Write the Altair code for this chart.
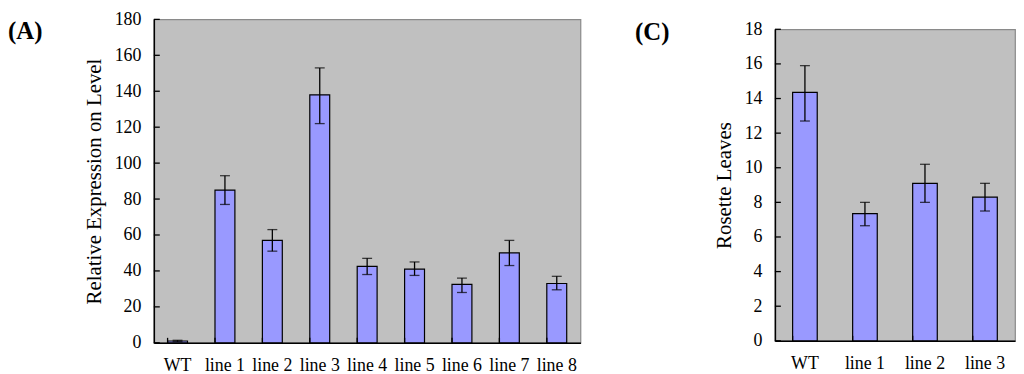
import altair as alt
import pandas as pd

FONT = "Liberation Serif"

# Panel A data
cats_a = ["WT", "line 1", "line 2", "line 3", "line 4", "line 5", "line 6", "line 7", "line 8"]
vals_a = [1.0, 85, 57, 138, 42.5, 41, 32.5, 50, 33]
lo_a = [0.6, 77, 51, 122, 38, 37.5, 28, 43, 29.5]
hi_a = [1.4, 93, 63, 153, 47, 45, 36, 57, 37]
ticks_a = [0, 20, 40, 60, 80, 100, 120, 140, 160, 180]

# Panel C data
cats_c = ["WT", "line 1", "line 2", "line 3"]
vals_c = [14.35, 7.35, 9.1, 8.3]
lo_c = [12.7, 6.65, 8.0, 7.5]
hi_c = [15.9, 8.0, 10.2, 9.1]
ticks_c = [0, 2, 4, 6, 8, 10, 12, 14, 16, 18]


def panel(cats, vals, lo, hi, ticks, ytitle, label, width, height, pad, label_xy):
    df = pd.DataFrame({"cat": cats, "val": vals, "lo": lo, "hi": hi})
    tdf = pd.DataFrame({"t": ticks})
    ymax = ticks[-1]
    xscale = alt.Scale(domain=cats, paddingInner=pad, paddingOuter=pad / 2)
    yscale = alt.Scale(domain=[0, ymax], nice=False)
    xaxis = alt.Axis(title=None, labelAngle=0, ticks=False, domainColor="black",
                     domainWidth=1.5, labelFont=FONT, labelFontSize=18,
                     labelColor="black", labelPadding=14, labelOverlap=False)
    yaxis = alt.Axis(title=ytitle, values=ticks, ticks=False, grid=False,
                     domainColor="black", domainWidth=1.5, labelFont=FONT,
                     labelFontSize=18, labelColor="black", labelPadding=13,
                     labelOverlap=False, labelFlush=False,
                     titleFont=FONT, titleFontSize=21, titleFontWeight="normal",
                     titleColor="black", titlePadding=10)
    x = alt.X("cat:N", sort=cats, scale=xscale, axis=xaxis)
    base = alt.Chart(df)
    bars = base.mark_bar(fill="#9999ff", stroke="black", strokeWidth=1.2).encode(
        x=x, y=alt.Y("val:Q", scale=yscale, axis=yaxis))
    err = base.mark_rule(color="black", strokeWidth=1.3).encode(
        x=x, y=alt.Y("lo:Q", scale=yscale, axis=yaxis), y2="hi:Q")
    cap_lo = base.mark_tick(color="black", size=10, thickness=1.3).encode(
        x=x, y=alt.Y("lo:Q", scale=yscale, axis=yaxis))
    cap_hi = base.mark_tick(color="black", size=10, thickness=1.3).encode(
        x=x, y=alt.Y("hi:Q", scale=yscale, axis=yaxis))
    yticks = alt.Chart(tdf).mark_rule(color="black", strokeWidth=1.3).encode(
        y=alt.Y("t:Q", scale=yscale, axis=yaxis), x=alt.value(0), x2=alt.value(6))
    xticks = base.mark_rule(color="black", strokeWidth=1.3).encode(
        x=alt.X("cat:N", sort=cats, scale=xscale, axis=xaxis, bandPosition=0),
        y=alt.value(height), y2=alt.value(height - 5))
    lab = alt.Chart(pd.DataFrame({"t": [label]})).mark_text(
        font=FONT, fontSize=25, fontWeight="bold", color="black", align="left",
        baseline="middle").encode(text="t:N", x=alt.value(label_xy[0]), y=alt.value(label_xy[1]))
    return alt.layer(bars, err, cap_lo, cap_hi, yticks, xticks, lab).properties(
        width=width, height=height)


pa = panel(cats_a, vals_a, lo_a, hi_a, ticks_a, "Relative Expression on Level", "(A)",
           430, 326, 0.58, (-147, 12))
pc = panel(cats_c, vals_c, lo_c, hi_c, ticks_c, "Rosette Leaves", "(C)",
           242, 314, 0.59, (-141, 3))

spacer = alt.Chart(pd.DataFrame({"a": [0]})).mark_rule(opacity=0).encode(
    x=alt.value(0), y=alt.value(0)).properties(
    width=1, height=1, view=alt.ViewBackground(fill="transparent", stroke="transparent"))

right = alt.vconcat(spacer, pc, spacing=-2)

chart = alt.hconcat(pa, right, spacing=53).properties(
    padding={"top": 0, "left": -1, "right": 0, "bottom": 0}).configure_view(
    fill="#c0c0c0", stroke="#8a8a8a", strokeWidth=1.2)

chart.save("out.html", embed_options={"renderer": "svg", "actions": False})
